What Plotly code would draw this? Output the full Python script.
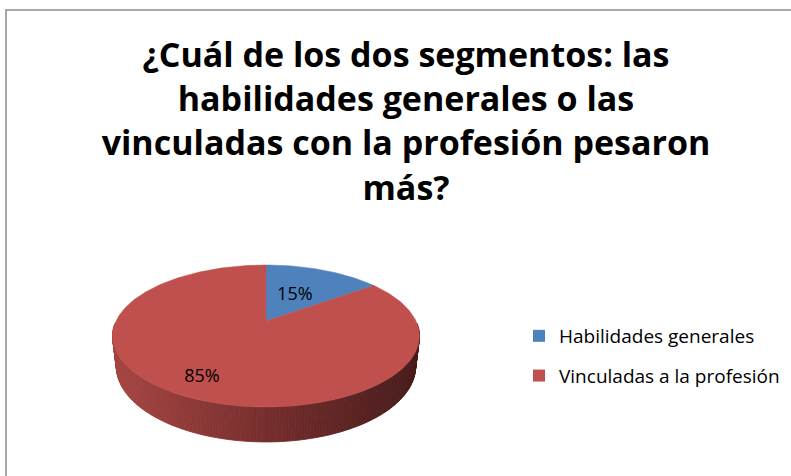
import math
import plotly.graph_objects as go

# ---- data ----
categories = ["Habilidades generales", "Vinculadas a la profesión"]
values = [15, 85]
colors = ["#4F81BD", "#C0504D"]
title_text = ("¿Cuál de los dos segmentos: las<br>habilidades generales o las<br>"
              "vinculadas con la profesión pesaron<br>más?")

W, H = 791, 476
FONT = "'Open Sans', Lato, sans-serif"

# ---- 3D pie projection (pixel space) ----
CX, CY = 266.0, 321.0
F, D = 632.8, 4.219
SA, CA = 0.4523, 0.8919
THICK = 0.228


def proj(theta_deg, r=1.0, z=0.0):
    t = math.radians(theta_deg)
    X, Y = r * math.sin(t), r * math.cos(t)
    v = Y * SA + z * CA
    w = Y * CA - z * SA
    return CX + F * X / (D + w), CY - F * v / (D + w), w


def side_color(x):
    stops = [(113, (166, 69, 66)), (266, (118, 46, 45)), (419, (70, 27, 26))]
    x = max(stops[0][0], min(stops[-1][0], x))
    for (x0, c0), (x1, c1) in zip(stops, stops[1:]):
        if x <= x1:
            t = (x - x0) / (x1 - x0)
            c = [round(a + (b - a) * t) for a, b in zip(c0, c1)]
            return "rgb(%d,%d,%d)" % tuple(c)
    return "rgb(%d,%d,%d)" % stops[-1][1]


total = sum(values)
angles = []
acc = 0.0
for v in values:
    a0 = acc / total * 360
    acc += v
    angles.append((a0, acc / total * 360))

fig = go.Figure()

# side wall strips (front half), back-to-front
strips = []
step = 1.0
th = 92.0
while th < 268.0:
    t0, t1 = th, th + step
    xa, ya, wa = proj(t0)
    xb, yb, wb = proj(t1)
    xc, yc, _ = proj(t1, z=-THICK)
    xd, yd, _ = proj(t0, z=-THICK)
    strips.append(((wa + wb) / 2, [xa, xb, xc, xd, xa], [ya, yb, yc, yd, ya]))
    th += step
strips.sort(key=lambda s: -s[0])
for _, xs, ys in strips:
    col = side_color(sum(xs[:4]) / 4)
    fig.add_trace(go.Scatter(x=xs, y=ys, mode="lines", fill="toself",
                             fillcolor=col, line=dict(color=col, width=0.8),
                             hoverinfo="skip", showlegend=False))

# top face slices
for (a0, a1), col, name in zip(angles, colors, categories):
    n = max(4, int((a1 - a0) / 1.0))
    xs, ys = [CX], [CY]
    for i in range(n + 1):
        x, y, _ = proj(a0 + (a1 - a0) * i / n)
        xs.append(x)
        ys.append(y)
    xs.append(CX)
    ys.append(CY)
    fig.add_trace(go.Scatter(x=xs, y=ys, mode="lines", fill="toself",
                             fillcolor=col, line=dict(color=col, width=0.5),
                             hoverinfo="text", text=name, showlegend=False))

# data labels
label_r = [0.46, 0.8]
lx, ly, lt = [], [], []
for (a0, a1), v, r in zip(angles, values, label_r):
    x, y, _ = proj((a0 + a1) / 2, r=r)
    lx.append(x)
    ly.append(y)
    lt.append(f"{round(v / total * 100)}%")
fig.add_trace(go.Scatter(x=lx, y=ly, mode="text", text=lt,
                         textfont=dict(family=FONT, size=18, color="black"),
                         hoverinfo="skip", showlegend=False))

# legend entries
for i, (name, col) in enumerate(zip(categories, colors)):
    fig.add_trace(go.Scatter(x=[None], y=[None], mode="markers", name=name,
                             legendgroup=f"g{i}",
                             marker=dict(symbol="square", size=12, color=col)))

fig.update_layout(
    width=W, height=H,
    margin=dict(l=0, r=0, t=0, b=0),
    paper_bgcolor="white", plot_bgcolor="white",
    xaxis=dict(range=[0, W], visible=False, fixedrange=True),
    yaxis=dict(range=[H, 0], visible=False, fixedrange=True),
    title=dict(text=title_text, x=406 / W, xanchor="center",
               y=1 - 67 / H, yanchor="top",
               font=dict(family=FONT, size=34, color="black", weight="bold")),
    legend=dict(x=519 / W, xanchor="left", y=1 - 356 / H, yanchor="middle",
                font=dict(family=FONT, size=19, color="black"),
                tracegroupgap=12, bgcolor="rgba(0,0,0,0)"),
    shapes=[dict(type="rect", xref="x", yref="y", x0=6, y0=10, x1=W + 10, y1=H + 10,
                 line=dict(color="#8c8c8c", width=1.5), fillcolor="rgba(0,0,0,0)")],
)

fig.write_html("out.html", config={"displayModeBar": False},
               post_script="document.body.style.margin='0';")
